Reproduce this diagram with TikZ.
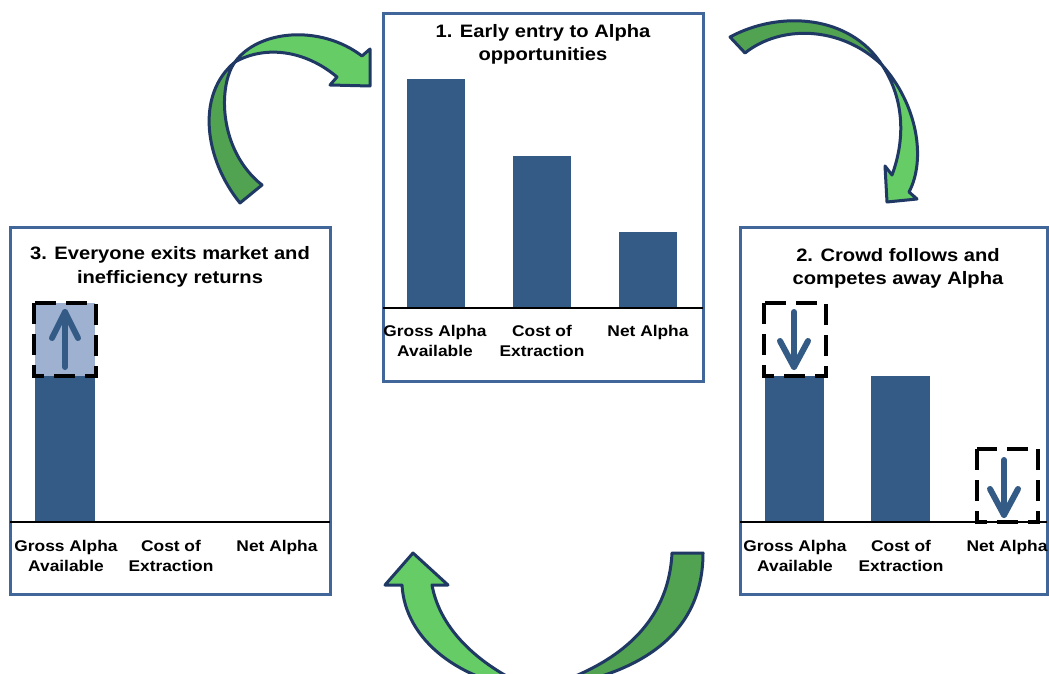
\documentclass[tikz,border=0pt]{standalone}
\usepackage{fontspec}
\setmainfont{Liberation Sans}[FakeStretch=1.12]
\definecolor{barblue}{HTML}{345A86}
\definecolor{panelblue}{HTML}{41679A}
\definecolor{lightbar}{HTML}{9EB1D0}
\definecolor{glight}{HTML}{66CC66}
\definecolor{gdark}{HTML}{51A351}
\definecolor{navy}{HTML}{1F3864}
\begin{document}
\begin{tikzpicture}[x=1pt,y=-1pt,
  panel/.style={draw=panelblue,line width=3pt,fill=white},
  bar/.style={fill=barblue},
  base/.style={draw=black,line width=1.6pt},
  dbox/.style={draw=black,line width=3.2pt,dash pattern=on 21pt off 10pt},
  updown/.style={draw=barblue,line width=6pt,line cap=round,line join=round},
  ttl/.style={anchor=base,inner sep=0pt,font=\fontsize{18}{21}\selectfont\bfseries},
  lbl/.style={anchor=base,inner sep=0pt,font=\fontsize{15.5}{18}\selectfont\bfseries},
  gl/.style={fill=glight,draw=navy,line width=3pt,line join=round},
  gd/.style={fill=gdark,draw=navy,line width=3pt,line join=round}]
\clip (0,0) rectangle (1049,674);
\fill[white] (0,0) rectangle (1049,674);

% ---------- Panel 1 ----------
\draw[panel] (383,14) rectangle (703,381);
\node[ttl] (t1a) at (543,38) {1. Early entry to Alpha};
\node[ttl] (t1b) at (543,61) {opportunities};
\fill[bar] (407,79) rectangle (465,308);
\fill[bar] (513,156) rectangle (571,308);
\fill[bar] (619,232) rectangle (677,308);
\draw[base] (383,308) -- (703,308);
\node[lbl] (l1a) at (435,336) {Gross Alpha};
\node[lbl] (l1b) at (435,356) {Available};
\node[lbl] (l1c) at (542,336) {Cost of};
\node[lbl] (l1d) at (542,356) {Extraction};
\node[lbl] (l1e) at (648,336) {Net Alpha};

% ---------- Panel 2 ----------
\draw[panel] (740,227) rectangle (1047,594);
\node[ttl] (t2a) at (898,261) {2. Crowd follows and};
\node[ttl] (t2b) at (898,284) {competes away Alpha};
\fill[bar] (765,376) rectangle (824,522);
\fill[bar] (871,376) rectangle (930,522);
\draw[base] (740,522) -- (1047,522);
\draw[dbox] (764,303) rectangle (826,376);
\draw[updown] (794,312) -- (794,367);
\draw[updown] (780,341) -- (794,367) -- (808,341);
\draw[dbox] (977,449) rectangle (1038,522);
\draw[updown] (1004,460) -- (1004,515);
\draw[updown] (990,489) -- (1004,515) -- (1018,489);
\node[lbl] (l2a) at (795,551) {Gross Alpha};
\node[lbl] (l2b) at (795,571) {Available};
\node[lbl] (l2c) at (901,551) {Cost of};
\node[lbl] (l2d) at (901,571) {Extraction};
\node[lbl] (l2e) at (1007,551) {Net Alpha};

% ---------- Panel 3 ----------
\draw[panel] (10,227) rectangle (330,594);
\node[ttl] (t3a) at (170,259) {3. Everyone exits market and};
\node[ttl] (t3b) at (170,283) {inefficiency returns};
\fill[lightbar] (35,303) rectangle (95,376);
\fill[bar] (35,376) rectangle (95,522);
\draw[base] (10,522) -- (330,522);
\draw[dbox] (34,303) rectangle (96,376);
\draw[updown] (65,367) -- (65,312);
\draw[updown] (52,338) -- (65,312) -- (78,338);
\node[lbl] (l3a) at (66,551) {Gross Alpha};
\node[lbl] (l3b) at (66,571) {Available};
\node[lbl] (l3c) at (171,551) {Cost of};
\node[lbl] (l3d) at (171,571) {Extraction};
\node[lbl] (l3e) at (277,551) {Net Alpha};

% ---------- Arrow 3 -> 1 (top left) ----------
\draw[gd] (240,203) .. controls (205,160) and (195,95) .. (235,62)
  .. controls (218,85) and (218,150) .. (262,185) -- cycle;
\draw[gl] (235,62) .. controls (258,30) and (320,24) .. (362,56)
  -- (370,49) -- (370,86) -- (330,85) -- (337,77)
  .. controls (305,50) and (265,45) .. (235,62) -- cycle;

% ---------- Arrow 1 -> 2 (top right) ----------
\draw[gd] (730,37) .. controls (780,10) and (850,15) .. (882,65)
  .. controls (840,25) and (780,25) .. (745,53) -- cycle;
\draw[gl] (882,65) .. controls (918,105) and (926,160) .. (909,192)
  -- (917,199) -- (887,202) -- (885,166) -- (892,175)
  .. controls (905,140) and (905,100) .. (882,65) -- cycle;

% ---------- Arrow 2 -> 3 (bottom) ----------
\draw[gd] (672,553) -- (703,553) .. controls (703,620) and (660,675) .. (535,690)
  .. controls (600,672) and (668,635) .. (672,553) -- cycle;
\draw[gl] (535,690) .. controls (460,683) and (405,640) .. (402,585)
  -- (385,585) -- (413,553) -- (448,585) -- (432,585)
  .. controls (440,630) and (480,667) .. (535,690) -- cycle;
\end{tikzpicture}
\end{document}
